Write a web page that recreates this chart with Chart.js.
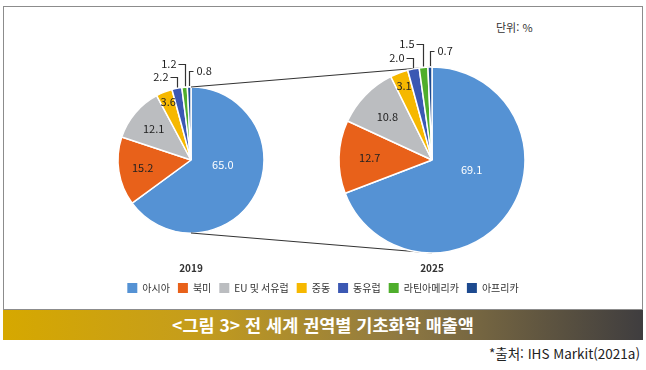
<!DOCTYPE html>
<html lang="ko">
<head>
<meta charset="utf-8">
<script src="https://cdn.jsdelivr.net/npm/chart.js@4.4.1/dist/chart.umd.min.js"></script>
<style>
  body { margin: 0; background: #fff; width: 646px; height: 370px; position: relative; overflow: hidden;
         font-family: "Noto Sans CJK KR", "Noto Sans", sans-serif; }
  #frame { position: absolute; left: 3px; top: 6px; width: 640px; height: 304px; box-sizing: border-box;
           border: 1.5px solid #8c8c8c; border-bottom-width: 1px; background: #fff; }
  canvas { position: absolute; left: 0; top: 0; }
  #unit { position: absolute; left: 496px; top: 19px; font-size: 11px; color: #333; }
  #banner { position: absolute; left: 3px; top: 310px; width: 640px; height: 30px; line-height: 30px;
            text-align: center; color: #fff; font-weight: bold; font-size: 17.5px;
            background: linear-gradient(to right, #d6a800 0%, #c59d1c 30%, #8f7942 62%, #3f3d3f 100%); }
  #source { position: absolute; right: 6px; top: 343px; font-size: 13.5px; color: #222; }
</style>
</head>
<body>
<div id="frame"></div>
<div id="unit">단위: %</div>
<canvas id="pie2019" width="646" height="303"></canvas>
<canvas id="pie2025" width="646" height="303"></canvas>
<div id="banner">&lt;그림 3&gt; 전 세계 권역별 기초화학 매출액</div>
<div id="source">*출처: IHS Markit(2021a)</div>
<script>
const regions = ['아시아', '북미', 'EU 및 서유럽', '중동', '동유럽', '라틴아메리카', '아프리카'];
const share2019 = [65.0, 15.2, 12.1, 3.6, 2.2, 1.2, 0.8];
const share2025 = [69.1, 12.7, 10.8, 3.1, 2.0, 1.5, 0.7];
const years = ['2019', '2025'];
const regionColors = ['#5592d4', '#e8611a', '#bbbdc0', '#f6b800', '#3b58b3', '#4fae2c', '#1d4a8f'];

const FONT = '"Noto Sans CJK KR", "Noto Sans", sans-serif';

// where each pie sits inside its canvas
const pieBox = {
  id: 'pieBox',
  afterLayout(chart, args, o) {
    const s = o.radius * 2 + 1.5;
    chart.chartArea = {
      left: o.cx - s / 2, right: o.cx + s / 2,
      top: o.cy - s / 2, bottom: o.cy + s / 2,
      width: s, height: s
    };
  }
};

// value labels, leader brackets for small slices, year under pie
const insideR = [0.44, 0.67, 0.67, 0.85];
const leaderLen = [10, 22, 15];
const sliceLabels = {
  id: 'sliceLabels',
  afterDatasetsDraw(chart, args, o) {
    const ctx = chart.ctx;
    const vals = chart.data.datasets[0].data;
    const arcs = chart.getDatasetMeta(0).data;
    ctx.save();
    ctx.font = '11px ' + FONT;
    ctx.textBaseline = 'middle';
    arcs.forEach((arc, i) => {
      const { x, y, startAngle, endAngle, outerRadius } =
        arc.getProps(['x', 'y', 'startAngle', 'endAngle', 'outerRadius'], true);
      const txt = vals[i].toFixed(1);
      if (i < insideR.length) {
        const a = i === 0 ? startAngle + (endAngle - startAngle) * 0.42 : (startAngle + endAngle) / 2;
        const r = outerRadius * insideR[i];
        ctx.fillStyle = i === 0 ? '#fff' : '#222';
        ctx.textAlign = 'center';
        ctx.fillText(txt, x + Math.cos(a) * r, y + Math.sin(a) * r);
      } else {
        const a = (startAngle + endAngle) / 2;
        const px = Math.round(x + Math.cos(a) * (outerRadius + 1)) + 0.5;
        const py = y + Math.sin(a) * (outerRadius + 1);
        const ly = Math.round(py - leaderLen[i - insideR.length]) + 0.5;
        const right = i === arcs.length - 1;
        const hx = right ? px + 4 : px - 7;
        ctx.strokeStyle = '#333';
        ctx.lineWidth = 1.2;
        ctx.beginPath();
        ctx.moveTo(px, py);
        ctx.lineTo(px, ly);
        ctx.lineTo(hx, ly);
        ctx.stroke();
        ctx.fillStyle = '#222';
        ctx.textAlign = right ? 'left' : 'right';
        ctx.fillText(txt, right ? hx + 3 : hx - 2, ly - 1);
      }
    });
    ctx.font = 'bold 10px ' + FONT;
    ctx.textAlign = 'center';
    ctx.fillStyle = '#333';
    ctx.fillText(o.year, o.cx, o.yearY);
    ctx.restore();
  }
};

function legendNoBorder(chart) {
  return Chart.overrides.pie.plugins.legend.labels.generateLabels(chart)
    .map(item => Object.assign(item, { lineWidth: 0 }));
}

function pieConfig(values, box, withLegend, extraPlugins) {
  return {
    type: 'pie',
    data: {
      labels: regions,
      datasets: [{
        data: values,
        backgroundColor: regionColors,
        borderColor: '#fff',
        borderWidth: 1.5,
        hoverBorderWidth: 1.5,
        hoverOffset: 0
      }]
    },
    options: {
      responsive: false,
      animation: false,
      events: [],
      layout: { padding: 0 },
      plugins: {
        legend: {
          display: withLegend,
          position: 'bottom',
          labels: {
            boxWidth: 10, boxHeight: 10, padding: 8, color: '#333',
            font: { family: FONT, size: 10 },
            generateLabels: legendNoBorder
          }
        },
        tooltip: { enabled: false },
        pieBox: box,
        sliceLabels: box
      }
    },
    plugins: [pieBox, sliceLabels].concat(extraPlugins || [])
  };
}

const chart2019 = new Chart(document.getElementById('pie2019'),
  pieConfig(share2019, { cx: 191, cy: 160, radius: 73, year: years[0], yearY: 268 }, true));

// lines joining the tops and bottoms of the two pies
const joinLines = {
  id: 'joinLines',
  beforeDatasetsDraw(chart) {
    const a = chart2019.getDatasetMeta(0).data[0];
    const b = chart.getDatasetMeta(0).data[0];
    const ctx = chart.ctx;
    ctx.save();
    ctx.strokeStyle = '#333';
    ctx.lineWidth = 1.2;
    ctx.beginPath();
    ctx.moveTo(a.x, a.y - a.outerRadius);
    ctx.lineTo(b.x, b.y - b.outerRadius);
    ctx.moveTo(a.x, a.y + a.outerRadius);
    ctx.lineTo(b.x, b.y + b.outerRadius);
    ctx.stroke();
    ctx.restore();
  }
};

new Chart(document.getElementById('pie2025'),
  pieConfig(share2025, { cx: 432, cy: 160, radius: 93, year: years[1], yearY: 268 }, false, [joinLines]));
</script>
</body>
</html>
